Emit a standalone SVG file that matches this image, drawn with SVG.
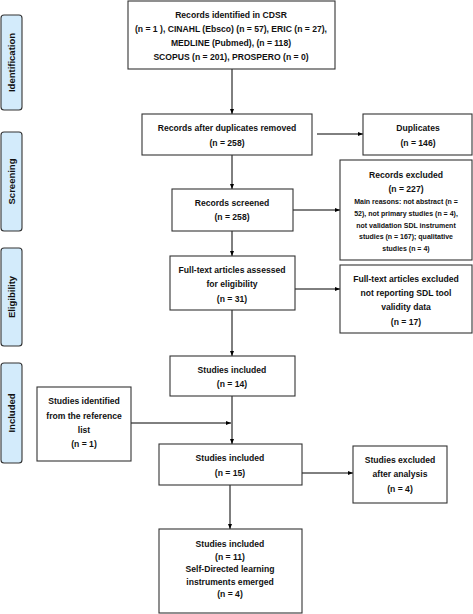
<svg xmlns="http://www.w3.org/2000/svg" width="473" height="614" viewBox="0 0 473 614">
<style>
.box{fill:#fff;stroke:#333;stroke-width:1.1}
.ph{fill:#d3ebfb;stroke:#333;stroke-width:1.1}
.t{font-family:"Liberation Sans",Arial,sans-serif;font-weight:bold;font-size:8.6px;fill:#111;text-anchor:middle}
.s{font-size:7px}
.pt{font-family:"Liberation Sans",Arial,sans-serif;font-weight:bold;font-size:9.5px;fill:#111;text-anchor:middle}
.c{stroke:#000;stroke-width:1;fill:none;marker-end:url(#ah)}
</style>
<defs>
<marker id="ah" viewBox="0 0 10 10" refX="10" refY="5" markerWidth="5" markerHeight="5" orient="auto" markerUnits="userSpaceOnUse">
<path d="M0,1 L10,5 L0,9 z" fill="#000"/>
</marker>
</defs>
<g id="phase-identification"><rect class="ph" x="1" y="15" width="21" height="95" rx="3"/><text class="pt" transform="translate(15,62.5) rotate(-90)">Identification</text></g>
<g id="phase-screening"><rect class="ph" x="1" y="132" width="21" height="99" rx="3"/><text class="pt" transform="translate(15,181.5) rotate(-90)">Screening</text></g>
<g id="phase-eligibility"><rect class="ph" x="1" y="248" width="21" height="98" rx="3"/><text class="pt" transform="translate(15,297) rotate(-90)">Eligibility</text></g>
<g id="phase-included"><rect class="ph" x="1" y="363" width="21" height="100" rx="3"/><text class="pt" transform="translate(15,413) rotate(-90)">Included</text></g>

<g id="connectors">
<path class="c" d="M232,69 V114"/>
<path class="c" d="M317,134 H363"/>
<path class="c" d="M232,155 V189"/>
<path class="c" d="M293,210 H340"/>
<path class="c" d="M232,231 V256"/>
<path class="c" d="M295,289 H340"/>
<path class="c" d="M232,310 V356"/>
<path class="c" d="M232,396 V444"/>
<path class="c" d="M131,423 H231"/>
<path class="c" d="M302,473 H353"/>
<path class="c" d="M230,485 V529"/>
</g>

<g id="records-identified"><rect class="box" x="128" y="1" width="207" height="68"/>
<text class="t" x="231" y="17.5">Records identified in CDSR</text>
<text class="t" x="231" y="31.5">(n = 1 ), CINAHL (Ebsco) (n = 57), ERIC (n = 27),</text>
<text class="t" x="231" y="45.5">MEDLINE (Pubmed), (n = 118)</text>
<text class="t" x="231" y="59.5">SCOPUS (n = 201), PROSPERO (n = 0)</text></g>

<g id="after-duplicates"><rect class="box" x="142" y="114" width="170" height="41"/>
<text class="t" x="227" y="131">Records after duplicates removed</text>
<text class="t" x="227" y="145.5">(n = 258)</text></g>

<g id="duplicates"><rect class="box" x="363" y="114" width="109" height="41"/>
<text class="t" x="418" y="131">Duplicates</text>
<text class="t" x="418" y="145.5">(n = 146)</text></g>

<g id="records-screened"><rect class="box" x="172" y="189" width="121" height="42"/>
<text class="t" x="232" y="206">Records screened</text>
<text class="t" x="232" y="220">(n = 258)</text></g>

<g id="records-excluded"><rect class="box" x="340" y="160" width="132" height="100"/>
<text class="t" x="406" y="178">Records excluded</text>
<text class="t" x="406" y="192">(n = 227)</text>
<text class="t s" x="406" y="204">Main reasons: not abstract (n =</text>
<text class="t s" x="406" y="216">52), not primary studies (n = 4),</text>
<text class="t s" x="406" y="227.5">not validation SDL instrument</text>
<text class="t s" x="406" y="239">studies (n = 167); qualitative</text>
<text class="t s" x="406" y="250.5">studies (n = 4)</text></g>

<g id="full-text-assessed"><rect class="box" x="170" y="256" width="125" height="54"/>
<text class="t" x="232" y="273">Full-text articles assessed</text>
<text class="t" x="232" y="287">for eligibility</text>
<text class="t" x="232" y="302">(n = 31)</text></g>

<g id="full-text-excluded"><rect class="box" x="340" y="265" width="132" height="68"/>
<text class="t" x="406" y="282">Full-text articles excluded</text>
<text class="t" x="406" y="296">not reporting SDL tool</text>
<text class="t" x="406" y="310">validity data</text>
<text class="t" x="406" y="325">(n = 17)</text></g>

<g id="studies-included-14"><rect class="box" x="170" y="356" width="125" height="40"/>
<text class="t" x="232" y="373">Studies included</text>
<text class="t" x="232" y="387">(n = 14)</text></g>

<g id="studies-identified-reference"><rect class="box" x="37" y="387" width="94" height="74"/>
<text class="t" x="84" y="404">Studies identified</text>
<text class="t" x="84" y="418.5">from the reference</text>
<text class="t" x="84" y="433">list</text>
<text class="t" x="84" y="447">(n = 1)</text></g>

<g id="studies-included-15"><rect class="box" x="159" y="444" width="143" height="41"/>
<text class="t" x="230" y="461">Studies included</text>
<text class="t" x="230" y="476">(n = 15)</text></g>

<g id="studies-excluded-analysis"><rect class="box" x="353" y="446" width="94" height="57"/>
<text class="t" x="400" y="463">Studies excluded</text>
<text class="t" x="400" y="477">after analysis</text>
<text class="t" x="400" y="492">(n = 4)</text></g>

<g id="studies-included-11"><rect class="box" x="159" y="529" width="143" height="84"/>
<text class="t" x="230" y="547">Studies included</text>
<text class="t" x="230" y="560">(n = 11)</text>
<text class="t" x="230" y="572">Self-Directed learning</text>
<text class="t" x="230" y="584.5">instruments emerged</text>
<text class="t" x="230" y="597">(n = 4)</text></g>
</svg>
